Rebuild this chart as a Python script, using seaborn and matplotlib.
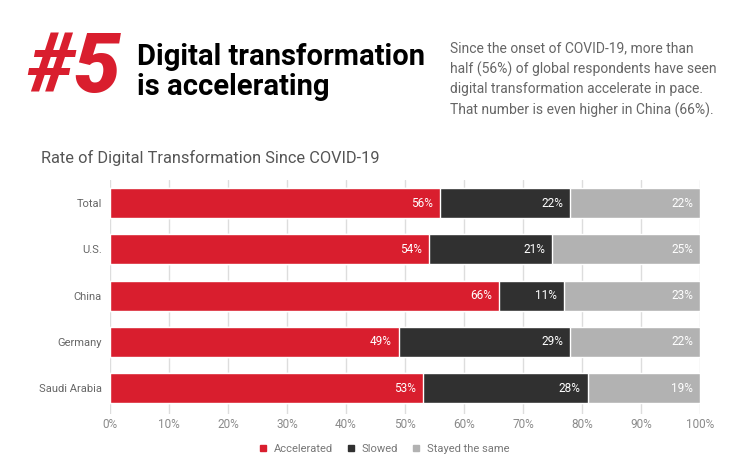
import pandas as pd
import seaborn as sns
import matplotlib.pyplot as plt
from matplotlib.lines import Line2D

countries = ['Total', 'U.S.', 'China', 'Germany', 'Saudi Arabia']
accelerated = [56, 54, 66, 49, 53]
slowed = [22, 21, 11, 29, 28]
same = [22, 25, 23, 22, 19]
xticks = [0, 10, 20, 30, 40, 50, 60, 70, 80, 90, 100]

red = '#D91E2E'
dark = '#303030'
grey = '#B2B2B2'

df = pd.DataFrame({'country': countries, 'acc': accelerated, 'slow': slowed, 'same': same})
df['c1'] = df['acc']
df['c2'] = df['acc'] + df['slow']
df['c3'] = df['c2'] + df['same']

sns.set_style('white')
plt.rcParams['font.family'] = ['Roboto', 'DejaVu Sans']

fig = plt.figure(figsize=(7.46, 4.71), dpi=100)
ax = fig.add_axes([0.1475, 0.121, 0.7908, 0.497])

# stacked bars: draw cumulative totals back to front
for col, c in [('c3', grey), ('c2', dark), ('c1', red)]:
    sns.barplot(data=df, y='country', x=col, color=c, orient='h', width=0.65,
                saturation=1, ax=ax, zorder=3)

# value labels at the right end of each segment
for i, row in df.iterrows():
    for col, v in [('c1', row['acc']), ('c2', row['slow']), ('c3', row['same'])]:
        ax.text(row[col] - 1.2, i, f'{v}%', color='white', ha='right', va='center',
                fontsize=8.5, zorder=4)

ax.set_xlim(0, 100)
ax.set_ylim(4.56, -0.5)
ax.set_xticks(xticks)
ax.set_xticklabels([f'{t}%' for t in xticks], color='#8a8a8a', fontsize=8.5)
ax.tick_params(axis='x', length=0, pad=3)
ax.tick_params(axis='y', length=0, pad=6, labelsize=8, labelcolor='#666666')
ax.set_xlabel('')
ax.set_ylabel('')
ax.grid(axis='x', color='#DDDDDD', linewidth=1, zorder=0)
for s in ax.spines.values():
    s.set_visible(False)

handles = [Line2D([], [], marker='s', linestyle='', color=c, markersize=5)
           for c in [red, dark, grey]]
fig.legend(handles, ['Accelerated', 'Slowed', 'Stayed the same'], loc='center',
           bbox_to_anchor=(0.51, 0.046), ncol=3, frameon=False, fontsize=8,
           handletextpad=0.0, columnspacing=0.6, labelcolor='#777777')

# header
fig.text(0.036, 0.853, '#5', color=red, fontsize=60, fontweight='heavy',
         fontstyle='italic', va='center', ha='left')
fig.text(0.183, 0.880, 'Digital transformation', color='black', fontsize=21,
         fontweight='bold', va='center')
fig.text(0.183, 0.815, 'is accelerating', color='black', fontsize=21,
         fontweight='bold', va='center')
blurb = ('Since the onset of COVID-19, more than\n'
         'half (56%) of global respondents have seen\n'
         'digital transformation accelerate in pace.\n'
         'That number is even higher in China (66%).')
fig.text(0.603, 0.912, blurb, color='#666666', fontsize=10, va='top',
         linespacing=1.5)
fig.text(0.055, 0.665, 'Rate of Digital Transformation Since COVID-19',
         color='#555555', fontsize=11.8, va='center')

fig.savefig('out.png', dpi=100)
